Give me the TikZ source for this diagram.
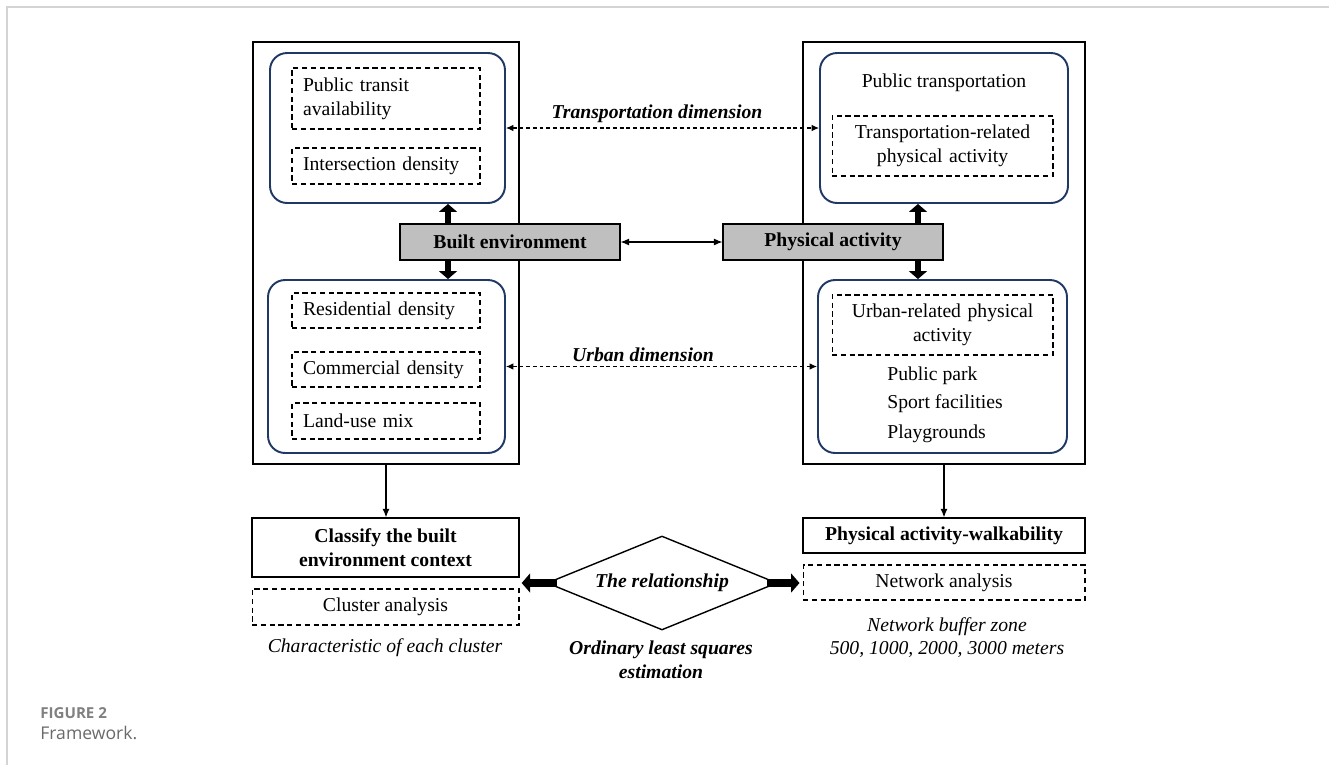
\documentclass[tikz,border=0pt]{standalone}
\usepackage{fontspec}
\setmainfont{Liberation Serif}
\newfontfamily\capfont{Open Sans}
\usetikzlibrary{arrows.meta,positioning,shapes.geometric,calc}
\definecolor{navy}{HTML}{1F3864}
\definecolor{keygray}{HTML}{BFBFBF}
\definecolor{framegray}{HTML}{D4D4D4}
\definecolor{capgray}{HTML}{6A6A6A}

\begin{document}
\begin{tikzpicture}[x=0.02cm, y=-0.02cm,
  every node/.style={font=\fontsize{11.2}{13.5}\selectfont, inner sep=0pt},
  outerbox/.style={draw, line width=1.1pt, minimum height=8.44cm},
  groupbox/.style={draw=navy, line width=1.1pt, rounded corners=0.34cm},
  dashbox/.style={draw, line width=0.6pt, dash pattern=on 3pt off 2pt},
  itemL/.style={dashbox, minimum width=3.76cm, text width=3.32cm, inner xsep=0.22cm, align=left},
  itemR/.style={dashbox, minimum width=4.42cm, text width=3.98cm, inner xsep=0.22cm, align=center},
  keybox/.style={draw, line width=0.7pt, fill=keygray, minimum width=4.4cm, minimum height=0.72cm,
    font=\fontsize{11.2}{13.5}\selectfont\bfseries},
  resultbox/.style={draw, line width=0.8pt, align=center, font=\fontsize{11.2}{13.5}\selectfont\bfseries},
  note/.style={font=\fontsize{11.2}{13.5}\selectfont\itshape},
  dimlabel/.style={font=\fontsize{11.2}{13.5}\selectfont\bfseries\itshape},
  thinarrow/.style={line width=0.6pt, -{Latex[length=0.17cm, width=0.14cm]}},
  botharrow/.style={line width=0.6pt, {Latex[length=0.17cm, width=0.14cm]}-{Latex[length=0.17cm, width=0.14cm]}},
  dimarrow/.style={line width=0.6pt, dash pattern=on 2.2pt off 1.6pt,
    {Latex[length=0.15cm, width=0.13cm]}-{Latex[length=0.15cm, width=0.13cm]}},
  bigarrow/.style={line width=3.4pt, -{Triangle[length=0.16cm, width=0.36cm]}},
  relarrow/.style={line width=4.4pt, -{Triangle[length=0.17cm, width=0.38cm]}}]

\useasboundingbox (0,0) rectangle (1329,765);
\draw[framegray, line width=1pt] (7,765) -- (7,7) -- (1329,7);

% outer frames and groups
\node[outerbox, minimum width=5.32cm] (bebox) at (386,253) {};
\node[outerbox, minimum width=5.64cm] (pabox) at (944,253) {};
\node[groupbox, minimum width=4.7cm, minimum height=3cm] (betop) at (387.5,128) {};
\node[groupbox, minimum width=4.74cm, minimum height=3.46cm] (bebot) at (386.5,366.5) {};
\node[groupbox, minimum width=4.96cm, minimum height=3cm] (patop) at (944,128) {};
\node[groupbox, minimum width=4.98cm, minimum height=3.46cm] (pabot) at (942.5,366.5) {};

% built environment items
\node[itemL, minimum height=1.22cm] (transit) at (386,98.5) {Public transit\\availability};
\node[itemL, minimum height=0.72cm] (inters) at (386,166) {Intersection density};
\node[itemL, minimum height=0.7cm] (resid) at (386,310.5) {Residential density};
\node[itemL, minimum height=0.7cm] (comm) at (386,369.5) {Commercial density};
\node[itemL, minimum height=0.72cm] (landuse) at (386,421) {Land-use mix};

% physical activity items
\node (ptrans) at (944,83) {Public transportation};
\node[itemR, minimum height=1.2cm] (trpa) at (942.5,146) {Transportation-related\\physical activity};
\node[itemR, minimum height=1.2cm] (urpa) at (942.5,325) {Urban-related physical\\activity};
\node[anchor=west] (park) at (887,376) {Public park};
\node[anchor=west] (sport) at (887,404) {Sport facilities};
\node[anchor=west] (play) at (887,434) {Playgrounds};

\node[keybox] (benv) at (510,242) {Built environment};
\node[keybox] (phys) at (833,242) {Physical activity};
\node[dimlabel] (tdim) at (657,114) {Transportation dimension};
\node[dimlabel] (udim) at (643,355) {Urban dimension};

% outcomes
\node[resultbox, minimum width=5.34cm, minimum height=1.18cm] (classify) at (385.5,547.5) {Classify the built\\environment context};
\node[dashbox, minimum width=5.34cm, minimum height=0.72cm] (cluster) at (385.5,607) {Cluster analysis};
\node[note] (charac) at (385,648) {Characteristic of each cluster};
\node[resultbox, minimum width=5.64cm, minimum height=0.7cm] (pawalk) at (944,535.5) {Physical activity-walkability};
\node[dashbox, minimum width=5.64cm, minimum height=0.7cm] (netw) at (944,582.5) {Network analysis};
\node[note, align=center] (buffer) at (947,637.5) {Network buffer zone\\500, 1000, 2000, 3000 meters};

\node[diamond, draw, line width=0.8pt, aspect=2.45, minimum width=4.6cm, minimum height=1.88cm,
  font=\fontsize{11.2}{13.5}\selectfont\bfseries\itshape] (rel) at (662,583) {The relationship};
\node[dimlabel, align=center] (ols) at (661,660) {Ordinary least squares\\estimation};

% connectors
\draw[dimarrow] (betop.east) -- (patop.west);
\draw[dimarrow] (bebot.east) -- (pabot.west);
\draw[botharrow] (benv.east) -- (phys.west);
\draw[bigarrow] ([xshift=-1.24cm]benv.north) -- ([xshift=-1.24cm]benv.north |- betop.south);
\draw[bigarrow] ([xshift=-1.24cm]benv.south) -- ([xshift=-1.24cm]benv.south |- bebot.north);
\draw[bigarrow] ([xshift=1.7cm]phys.north) -- ([xshift=1.7cm]phys.north |- patop.south);
\draw[bigarrow] ([xshift=1.7cm]phys.south) -- ([xshift=1.7cm]phys.south |- pabot.north);
\draw[thinarrow] (bebox.south) -- (bebox.south |- classify.north);
\draw[thinarrow] (pabox.south) -- (pabox.south |- pawalk.north);
\draw[relarrow] ([xshift=0.22cm]rel.west) -- ([xshift=0.04cm]rel.west -| classify.east);
\draw[relarrow] ([xshift=-0.22cm]rel.east) -- ([xshift=-0.06cm]rel.east -| netw.west);

% caption
\node[anchor=west, font=\capfont\fontsize{8.6}{10}\selectfont\bfseries, text=capgray!85] (figlab) at (40,713) {FIGURE 2};
\node[anchor=west, font=\capfont\fontsize{10}{12}\selectfont, text=capgray] (figcap) at (40,733) {Framework.};
\end{tikzpicture}
\end{document}
